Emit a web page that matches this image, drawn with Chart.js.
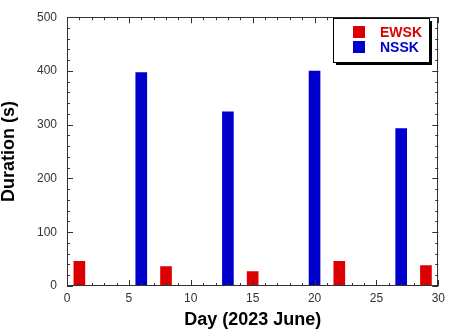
<!DOCTYPE html>
<html>
<head>
<meta charset="utf-8">
<script src="https://cdn.jsdelivr.net/npm/chart.js@4/dist/chart.umd.min.js"></script>
<style>
  html, body { margin: 0; padding: 0; background: #fff; }
  #wrap { width: 450px; height: 331px; }
</style>
</head>
<body>
<div id="wrap"><canvas id="grafico" width="450" height="331"></canvas></div>
<script>
// dados
const diasEWSK = [1, 8, 15, 22, 29];
const valoresEWSK = [46, 36, 27, 46, 38];
const diasNSSK = [6, 13, 20, 27];
const valoresNSSK = [397, 324, 400, 293];
const ticksX = [0, 5, 10, 15, 20, 25, 30];
const ticksY = [0, 100, 200, 300, 400, 500];
const nomes = ['EWSK', 'NSSK'];

const vermelho = '#dc0000';
const azul = '#0000cc';
const fonte = 'Arial, "Liberation Sans", sans-serif';

// ticks para dentro nos 4 lados + moldura
const moldura = {
  id: 'moldura',
  afterDatasetsDraw(chart) {
    const { ctx, chartArea: a, scales: { x, y } } = chart;
    ctx.save();
    ctx.strokeStyle = '#333';
    ctx.lineWidth = 1;
    ctx.beginPath();
    for (let d = x.min; d <= x.max; d += 1) {
      const px = Math.round(x.getPixelForValue(d)) + 0.5;
      const len = d % 5 === 0 ? 6 : 3;
      ctx.moveTo(px, a.bottom); ctx.lineTo(px, a.bottom - len);
      ctx.moveTo(px, a.top); ctx.lineTo(px, a.top + len);
    }
    for (let v = y.min; v <= y.max; v += 20) {
      const py = Math.round(y.getPixelForValue(v)) + 0.5;
      const len = v % 100 === 0 ? 6 : 3;
      ctx.moveTo(a.left, py); ctx.lineTo(a.left + len, py);
      ctx.moveTo(a.right, py); ctx.lineTo(a.right - len, py);
    }
    ctx.stroke();
    ctx.strokeRect(Math.round(a.left) + 0.5, Math.round(a.top) + 0.5,
      Math.round(a.width) - 1, Math.round(a.height) - 1);
    ctx.restore();
  }
};

// legenda em caixa com sombra
const legendaCaixa = {
  id: 'legendaCaixa',
  afterDraw(chart) {
    const ctx = chart.ctx;
    const bx = 333, by = 18, bw = 96, bh = 44;
    ctx.save();
    ctx.fillStyle = '#000';
    ctx.fillRect(bx + 3, by + 3, bw, bh);
    ctx.fillStyle = '#fff';
    ctx.fillRect(bx, by, bw, bh);
    ctx.strokeStyle = '#000';
    ctx.lineWidth = 1;
    ctx.strokeRect(bx + 0.5, by + 0.5, bw, bh);
    ctx.font = 'bold 14px ' + fonte;
    ctx.textBaseline = 'middle';
    chart.data.datasets.forEach((ds, i) => {
      const cy = by + 14 + i * 15;
      ctx.fillStyle = ds.backgroundColor;
      ctx.fillRect(bx + 20, cy - 6, 12, 12);
      ctx.fillText(ds.label, bx + 47, cy + 1);
    });
    ctx.restore();
  }
};

new Chart(document.getElementById('grafico'), {
  type: 'bar',
  data: {
    datasets: [
      {
        label: nomes[0],
        data: diasEWSK.map((d, i) => ({ x: d, y: valoresEWSK[i] })),
        backgroundColor: vermelho
      },
      {
        label: nomes[1],
        data: diasNSSK.map((d, i) => ({ x: d, y: valoresNSSK[i] })),
        backgroundColor: azul
      }
    ]
  },
  options: {
    responsive: false,
    animation: false,
    devicePixelRatio: 1,
    grouped: false,
    barThickness: 11,
    layout: { padding: { top: 8, right: 8, left: 0, bottom: 0 } },
    plugins: { legend: { display: false }, tooltip: { enabled: false } },
    scales: {
      x: {
        type: 'linear',
        offset: false,
        min: 0, max: 30,
        afterBuildTicks: s => { s.ticks = ticksX.map(v => ({ value: v })); },
        afterFit: s => { s.height = 45; },
        grid: { display: false, drawTicks: false },
        border: { display: false },
        ticks: { color: '#333', padding: 5, maxRotation: 0, font: { family: fonte, size: 12 } },
        title: {
          display: true,
          text: 'Day (2023 June)',
          color: '#000',
          padding: { top: 0, bottom: 2 },
          font: { family: fonte, size: 18, weight: 'bold', lineHeight: 1 }
        }
      },
      y: {
        min: 0, max: 500,
        afterBuildTicks: s => { s.ticks = ticksY.map(v => ({ value: v })); },
        afterFit: s => { s.width = 67; },
        grid: { display: false, drawTicks: false },
        border: { display: false },
        ticks: { color: '#333', padding: 10, font: { family: fonte, size: 12 } },
        title: {
          display: true,
          text: 'Duration (s)',
          color: '#000',
          padding: { top: 0, bottom: 0 },
          font: { family: fonte, size: 18, weight: 'bold', lineHeight: 1 }
        }
      }
    }
  },
  plugins: [moldura, legendaCaixa]
});
</script>
</body>
</html>
